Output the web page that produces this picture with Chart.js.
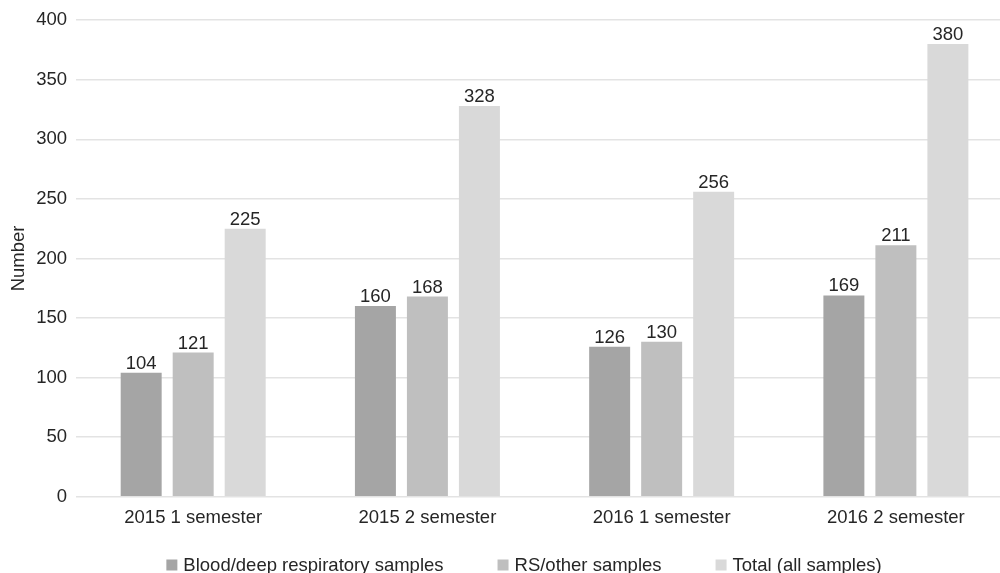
<!DOCTYPE html>
<html>
<head>
<meta charset="utf-8">
<script src="https://cdn.jsdelivr.net/npm/chart.js@4"></script>
<style>
  html, body { margin: 0; padding: 0; background: #fff; overflow: hidden; }
  #wrap { width: 1000px; height: 573px; overflow: hidden; }
  canvas { display: block; }
</style>
</head>
<body>
<div id="wrap"><canvas id="c" width="1048" height="573"></canvas></div>
<script>
const categories = ['2015 1 semester', '2015 2 semester', '2016 1 semester', '2016 2 semester'];
const bloodDeep = [104, 160, 126, 169];
const rsOther = [121, 168, 130, 211];
const totalAll = [225, 328, 256, 380];
const seriesNames = ['Blood/deep respiratory samples', 'RS/other samples', 'Total (all samples)'];
const seriesColors = ['#a5a5a5', '#bfbfbf', '#d9d9d9'];

const FONT = '"Liberation Sans", Arial, Helvetica, sans-serif';
const SIZE = 18.5;
const TEXT = '#262626';

// Writes each bar's value just above it
const valueLabels = {
  id: 'valueLabels',
  afterDatasetsDraw(chart) {
    const ctx = chart.ctx;
    ctx.save();
    ctx.font = SIZE + 'px ' + FONT;
    ctx.fillStyle = TEXT;
    ctx.textAlign = 'center';
    ctx.textBaseline = 'alphabetic';
    chart.data.datasets.forEach((ds, i) => {
      chart.getDatasetMeta(i).data.forEach((bar, j) => {
        ctx.fillText(String(ds.data[j]), bar.x, bar.y - 4);
      });
    });
    ctx.restore();
  }
};

// Legend row under the axis: small square swatch, then the series name
const legendRow = {
  id: 'legendRow',
  afterDraw(chart) {
    const ctx = chart.ctx;
    const box = 11, gapText = 6, gapItem = 54;
    ctx.save();
    ctx.font = SIZE + 'px ' + FONT;
    const items = chart.data.datasets.map(ds => ({
      text: ds.label, color: ds.backgroundColor, w: box + gapText + ctx.measureText(ds.label).width
    }));
    const total = items.reduce((s, it) => s + it.w, 0) + gapItem * (items.length - 1);
    let x = chart.width / 2 - total / 2;
    const y = chart.height - 8;
    ctx.textBaseline = 'middle';
    ctx.textAlign = 'left';
    items.forEach(it => {
      ctx.fillStyle = it.color;
      ctx.fillRect(x, y - box / 2, box, box);
      ctx.fillStyle = TEXT;
      ctx.fillText(it.text, x + box + gapText, y + 1);
      x += it.w + gapItem;
    });
    ctx.restore();
  }
};

new Chart(document.getElementById('c'), {
  type: 'bar',
  data: {
    labels: categories,
    datasets: [bloodDeep, rsOther, totalAll].map((d, i) => ({
      label: seriesNames[i],
      data: d,
      backgroundColor: seriesColors[i],
      borderWidth: 0,
      categoryPercentage: 0.666,
      barPercentage: 0.788
    }))
  },
  options: {
    responsive: false,
    animation: false,
    devicePixelRatio: 1,
    layout: { padding: { top: 13.5, right: 35, left: 4, bottom: 34 } },
    plugins: {
      legend: { display: false },
      tooltip: { enabled: false }
    },
    scales: {
      x: {
        grid: { display: false, drawTicks: false },
        border: { display: false },
        ticks: { font: { family: FONT, size: SIZE }, color: TEXT, padding: 10 }
      },
      y: {
        min: 0,
        max: 400,
        ticks: { stepSize: 50, font: { family: FONT, size: SIZE }, color: TEXT, padding: 9 },
        grid: { color: '#e3e3e3', lineWidth: 1.5, drawTicks: false },
        border: { display: false },
        title: {
          display: true, text: 'Number',
          font: { family: FONT, size: SIZE }, color: TEXT,
          padding: { top: 4, bottom: -3 }
        }
      }
    }
  },
  plugins: [valueLabels, legendRow]
});
</script>
</body>
</html>
